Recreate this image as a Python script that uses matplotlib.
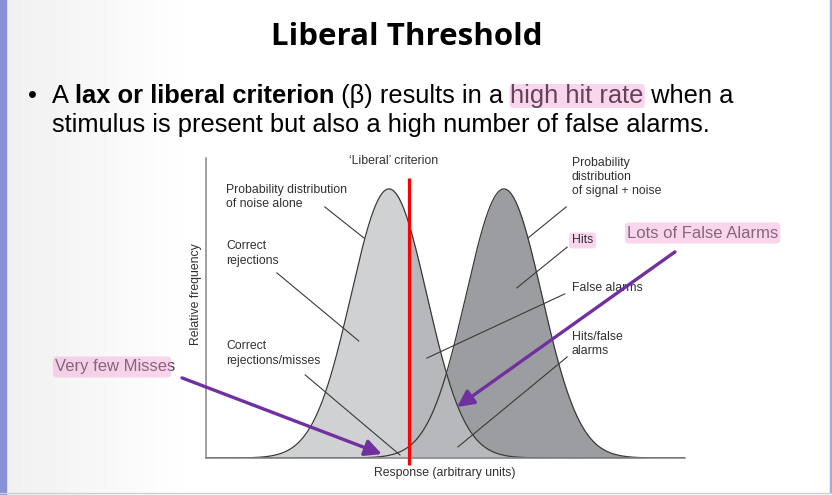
import numpy as np
import matplotlib
matplotlib.use("Agg")
import matplotlib.pyplot as plt
from matplotlib.patches import Rectangle, FancyBboxPatch

# values (response axis 0-10, relative frequency 0-1)
noise_mean = 3.82
signal_mean = 6.22
spread = 0.79
peak = 0.897
criterion = 4.24

title = "Liberal Threshold"
left_labels = ["Probability distribution\nof noise alone", "Correct\nrejections",
               "Correct\nrejections/misses"]
right_labels = ["Probability\ndistribution\nof signal + noise", "Hits", "False alarms",
                "Hits/false\nalarms"]
note_misses = "Very few Misses"
note_alarms = "Lots of False Alarms"

plt.rcParams['font.family'] = ['Liberation Sans', 'DejaVu Sans']

fig = plt.figure(figsize=(8.32, 4.95), dpi=100)

# slide background in pixel coordinates
bg = fig.add_axes([0, 0, 1, 1])
bg.set_xlim(0, 832)
bg.set_ylim(495, 0)
bg.axis('off')
grad = np.clip(np.linspace(0.94, 1.2, 256), 0, 1)
bg.imshow(np.tile(grad, (2, 1)), cmap='gray', vmin=0, vmax=1, aspect='auto',
          extent=[0, 832, 495, 0], zorder=0)
bg.add_patch(Rectangle((183, 150), 647, 340, color='white', zorder=1))
bg.add_patch(Rectangle((0, 0), 6, 495, color='#8890d8', zorder=2))
bg.add_patch(Rectangle((829.5, 0), 2.5, 493, color='#a4aae4', zorder=2))
bg.plot([0, 832], [493, 493], color='#d0d0d0', lw=1, zorder=2)

fig.canvas.draw()
renderer = fig.canvas.get_renderer()
inv = bg.transData.inverted()


def highlight(txt, pad=(3, 3), shrink=0):
    bb = txt.get_window_extent(renderer)
    (x0, y1), (x1, y0) = inv.transform([[bb.x0, bb.y0], [bb.x1, bb.y1]])
    bg.add_patch(FancyBboxPatch((x0 - pad[0], y0 - pad[1]), x1 - x0 + 2 * pad[0] - shrink,
                                y1 - y0 + 2 * pad[1], boxstyle='round,pad=0,rounding_size=4',
                                fc='#f29ed1', ec='none', alpha=0.42, zorder=6))


def width_of(txt):
    bb = txt.get_window_extent(renderer)
    (x0, _), (x1, _) = inv.transform([[bb.x0, bb.y0], [bb.x1, bb.y1]])
    return x1 - x0


bg.text(407, 45, title, fontsize=22.5, fontweight='bold', family=['Open Sans', 'DejaVu Sans'],
        ha='center', va='baseline', zorder=5)

bg.text(28, 103, "\u2022", fontsize=18.4, va='baseline', zorder=5)
pieces = [("A ", 'normal'), ("lax or liberal criterion", 'bold'), (" (\u03b2) results in a ", 'normal'),
          ("high hit rate", 'hl'), (" when a", 'normal')]
xpos = 52
for s, w in pieces:
    t = bg.text(xpos, 103, s, fontsize=18.4, fontweight='bold' if w == 'bold' else 'normal',
                va='baseline', zorder=5)
    fig.canvas.draw()
    if w == 'hl':
        highlight(t, pad=(1, 0))
    xpos += width_of(t)
bg.text(52, 132, "stimulus is present but also a high number of false alarms.", fontsize=18.4,
        va='baseline', zorder=5)

# chart
ax = fig.add_axes([206 / 832, 1 - 458 / 495, 479 / 832, 300 / 495])
ax.set_xlim(0, 10)
ax.set_ylim(0, 1)
ax.patch.set_visible(False)
for s in ['top', 'right']:
    ax.spines[s].set_visible(False)
for s in ['left', 'bottom']:
    ax.spines[s].set_color('#858585')
    ax.spines[s].set_linewidth(1.1)
ax.set_xticks([])
ax.set_yticks([])

x = np.union1d(np.linspace(0, 10, 1001), [criterion])
noise = peak * np.exp(-0.5 * ((x - noise_mean) / spread) ** 2)
signal = peak * np.exp(-0.5 * ((x - signal_mean) / spread) ** 2)

ax.fill_between(x, noise, where=x <= criterion, color='#cfd1d3', lw=0)
ax.fill_between(x, noise, where=x >= criterion, color='#b6b8bb', lw=0)
ax.fill_between(x, noise, signal, where=(signal > noise) & (x >= criterion),
                interpolate=True, color='#9b9da0', lw=0)
ax.plot(x, noise, color='#3a3a3a', lw=0.9)
ax.plot(x, signal, color='#3a3a3a', lw=0.9)
ax.plot([criterion, criterion], [-0.023, 0.933], color='#ff0000', lw=2.3,
        clip_on=False, solid_capstyle='butt', zorder=4)

lab = dict(fontsize=8.8, color='#303030', linespacing=1.25)
ax.text(3.92, 0.99, "\u2018Liberal\u2019 criterion", ha='center', va='center', **lab)
for s, y in zip(left_labels, [0.915, 0.725, 0.392]):
    ax.text(0.42, y, s, ha='left', va='top', **lab)
for s, y in zip(right_labels, [1.005, 0.725, 0.568, 0.425]):
    ax.text(7.64, y, s, ha='left', va='top' if '\n' in s else 'center', **lab)
ax.text(4.99, -0.05, "Response (arbitrary units)", ha='center', va='center', **lab)
ax.text(-0.021, 0.545, "Relative frequency", transform=ax.transAxes, rotation=90,
        ha='center', va='center', **lab)

leaders = [((2.48, 0.837), (3.30, 0.733)), ((1.48, 0.617), (3.19, 0.39)),
           ((2.07, 0.277), (4.05, 0.01)), ((7.52, 0.837), (6.72, 0.733)),
           ((7.54, 0.703), (6.49, 0.567)), ((7.49, 0.547), (4.61, 0.333)),
           ((7.54, 0.337), (5.26, 0.037))]
for a, b in leaders:
    ax.plot([a[0], b[0]], [a[1], b[1]], color='#3a3a3a', lw=0.8)

arrow = dict(arrowstyle='-|>,head_length=1.0,head_width=0.5', color='#7030a0', lw=2.4,
             shrinkA=0, shrinkB=0)
ax.annotate("", xy=(3.67, 0.013), xytext=(-0.50, 0.267), arrowprops=arrow,
            annotation_clip=False, zorder=5)
ax.annotate("", xy=(5.24, 0.17), xytext=(9.79, 0.687), arrowprops=arrow,
            annotation_clip=False, zorder=5)

fig.canvas.draw()
t_hits = [t for t in ax.texts if t.get_text() == "Hits"][0]
highlight(t_hits, pad=(3, 2))
t1 = bg.text(55, 367, note_misses, fontsize=12, color='#3c3c3c', va='center', zorder=5)
t2 = bg.text(627, 233, note_alarms, fontsize=12, color='#3c3c3c', va='center', zorder=5)
fig.canvas.draw()
highlight(t1, pad=(2, 3), shrink=6)
highlight(t2, pad=(2, 3))

fig.savefig("out.png", dpi=100)
